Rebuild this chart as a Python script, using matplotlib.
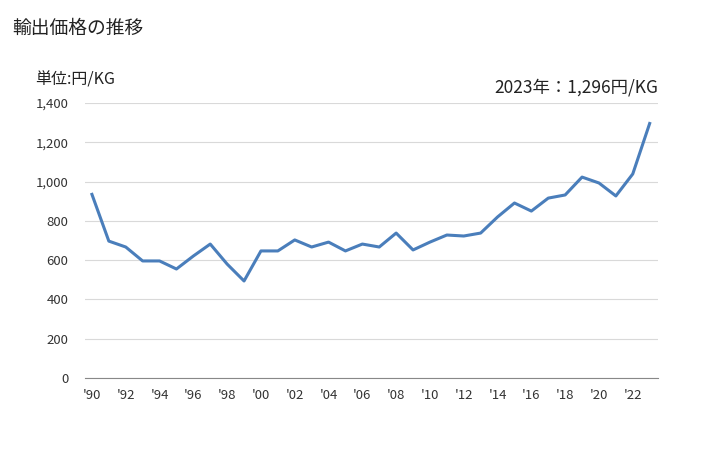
import matplotlib.pyplot as plt

plt.rcParams['font.family'] = ['Noto Sans CJK JP', 'DejaVu Sans']

years = list(range(1990, 2024))
prices = [935, 697, 667, 596, 596, 555, 621, 682, 580, 494,
          647, 647, 703, 667, 692, 647, 682, 667, 738, 652,
          692, 728, 723, 738, 820, 891, 850, 916, 932, 1023,
          993, 927, 1039, 1296]
yticks = [0, 200, 400, 600, 800, 1000, 1200, 1400]
xtick_years = list(range(1990, 2023, 2))
xtick_labels = ["'%02d" % (y % 100) for y in xtick_years]

fig = plt.figure(figsize=(7.28, 4.5), dpi=100)
ax = fig.add_axes([0.117, 0.16, 0.787, 0.611])

ax.plot(years, prices, color='#4a7ebb', lw=2.2)

ax.set_xlim(1989.6, 2023.5)
ax.set_ylim(0, 1400)
ax.set_yticks(yticks)
ax.set_yticklabels([f"{v:,}" for v in yticks])
ax.set_xticks(xtick_years)
ax.set_xticklabels(xtick_labels)
ax.grid(axis='y', color='#d9d9d9', lw=0.8)
ax.set_axisbelow(True)
for s in ['top', 'right', 'left']:
    ax.spines[s].set_visible(False)
ax.spines['bottom'].set_color('#888888')
ax.tick_params(length=0, labelsize=9.5, colors='#333333')
ax.tick_params(axis='y', pad=12)
ax.tick_params(axis='x', pad=8)

fig.text(12/728, 1 - 28/450, '輸出価格の推移', fontsize=13.5, va='center', color='#222222')
fig.text(35/728, 1 - 80/450, '単位:円/KG', fontsize=11.5, va='center', color='#222222')
fig.text(658/728, 1 - 88/450, '2023年：1,296円/KG', fontsize=12.5, va='center', ha='right', color='#222222')

fig.savefig('out.png', dpi=100)
